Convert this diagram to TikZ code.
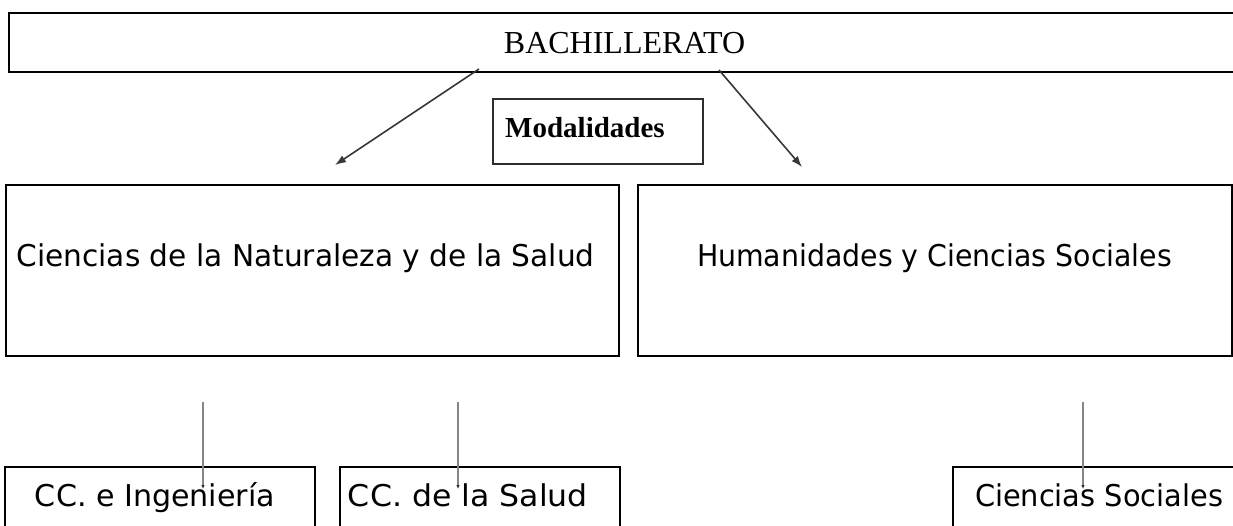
\documentclass[tikz,border=0pt]{standalone}
\usepackage{fontspec}
\setmainfont{Liberation Serif}
\newfontfamily\comicfont{DejaVu Sans}
\usetikzlibrary{arrows.meta}
\newcommand{\fitw}[2]{\resizebox{#1}{\height}{#2}}
\begin{document}
\begin{tikzpicture}[x=1pt,y=-1pt]
\tikzset{
  frame/.style={draw=black, line width=2pt, inner sep=0pt, outer sep=0pt, anchor=north west},
  conn/.style={draw=black!78, line width=1.6pt, -{Latex[length=11pt,width=8pt]}},
  drop/.style={draw=black!48, line width=2pt, -{Latex[length=4pt,width=3.5pt,color=black!80]}},
  serift/.style={font=\fontsize{32}{36}\selectfont, inner sep=0pt, anchor=base},
  boldt/.style={font=\bfseries\fontsize{29}{32}\selectfont, inner sep=0pt, anchor=base west},
  ctext/.style={font=\comicfont\fontsize{30}{34}\selectfont, inner sep=0pt, anchor=base},
}
\useasboundingbox[fill=white] (0,0) rectangle (1233,525);

% top box
\node[frame, minimum width=1240pt, minimum height=59pt] (bach) at (8.5,12.5) {};
\node[serift] (bacht) at (624.5,53.3) {BACHILLERATO};

% Modalidades
\node[frame, draw=black!82, line width=1.8pt, minimum width=210pt, minimum height=65pt] (modbox) at (493,99) {};
\node[boldt] (modt) at (505,137.7) {Modalidades};

% middle boxes
\node[frame, minimum width=613pt, minimum height=171pt] (nat) at (6,185) {};
\node[frame, minimum width=594pt, minimum height=171pt] (hum) at (638,185) {};
\node[ctext] (natt) at (305.6,266.5) {\fitw{578pt}{Ciencias de la Naturaleza y de la Salud}};
\node[ctext] (humt) at (934.5,266.5) {\fitw{475pt}{Humanidades y Ciencias Sociales}};

% bottom boxes
\node[frame, line width=1.7pt, minimum width=310pt, minimum height=80pt] (ing) at (5,467) {};
\node[frame, line width=1.7pt, minimum width=280pt, minimum height=80pt] (sal) at (340,467) {};
\node[frame, line width=1.7pt, minimum width=300pt, minimum height=80pt] (soc) at (953,467) {};
\node[ctext] (ingt) at (155,506.5) {\fitw{240pt}{CC. e Ingeniería}};
\node[ctext] (salt) at (468,506.5) {\fitw{240pt}{CC. de la Salud}};
\node[ctext] (soct) at (1099,506.5) {\fitw{248pt}{Ciencias Sociales}};

% arrows from BACHILLERATO
\coordinate (a1s) at (479,69);
\coordinate (a1e) at (335,165);
\coordinate (a2s) at (719,70);
\coordinate (a2e) at (802,167);
\draw[conn] (a1s) -- (a1e);
\draw[conn] (a2s) -- (a2e);

% vertical drops
\coordinate (v1s) at (203,402);
\coordinate (v1e) at (203,489);
\coordinate (v2s) at (458,402);
\coordinate (v2e) at (458,489);
\coordinate (v3s) at (1083,402);
\coordinate (v3e) at (1083,489);
\draw[drop] (v1s) -- (v1e);
\draw[drop] (v2s) -- (v2e);
\draw[drop] (v3s) -- (v3e);
\end{tikzpicture}
\end{document}
